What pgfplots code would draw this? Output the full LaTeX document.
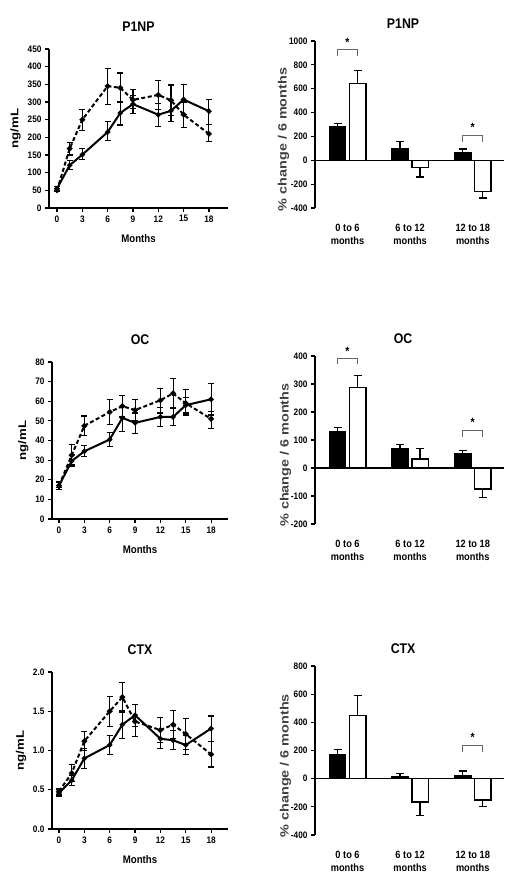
\documentclass[border=0pt]{standalone}
\usepackage{fontspec}
\setmainfont{Liberation Sans}[FakeStretch=0.88]
\newfontfamily\vfont{Liberation Sans}[FakeStretch=1.2]
\usepackage{pgfplots}
\pgfplotsset{compat=1.18}
\usepackage{pgfplotstable}

\pgfplotsset{
  base/.style={
    scale only axis,
    axis y line=left,
    axis x line=bottom,
    axis line style={line width=1.5pt,-},
    tick align=outside,
    major tick length=4pt,
    every tick/.style={line width=1.2pt, black},
    tick label style={font=\fontsize{9.4}{11}\selectfont\bfseries},
    /pgf/number format/assume math mode=true,
    /pgf/number format/1000 sep={},
    title style={font=\fontsize{14}{16}\selectfont\bfseries},
    clip=false,
  },
  lineax/.style={base, width=176pt, height=157pt,
    xmin=-0.83, xmax=20.0, xtick={0,3,...,18},
    xlabel={Months}, ylabel={ng/mL},
    xlabel style={font=\fontsize{11}{13}\selectfont\bfseries, yshift=-5pt},
    ylabel style={font=\vfont\fontsize{11}{13}\selectfont\bfseries},
    title style={at={(0.5,1)}, anchor=center, yshift=16pt},
  },
  barax/.style={base, width=189pt,
    xmin=-0.52, xmax=2.5, xtick={0,1,2},
    xticklabels={{0 to 6\\months},{6 to 12\\months},{12 to 18\\months}},
    xticklabel style={align=center, font=\fontsize{10.5}{12.5}\selectfont\bfseries, yshift=-9pt},
    x axis line style={draw=none}, xtick style={draw=none},
    ylabel={\% change / 6 months},
    ylabel shift=-7pt,
    ylabel style={at={(ticklabel cs:0.41)}, font=\vfont\fontsize{12}{14}\selectfont\bfseries, color=black!75},
    title style={at={(0.466,1)}, anchor=center, yshift=11pt},
  },
  sline/.style={black, line width=2pt, mark=*, mark size=1.5pt,
    error bars/.cd, y dir=both, y explicit,
    error bar style={line width=1.1pt, solid},
    error mark options={rotate=90, line width=1.1pt, mark size=3pt, solid}},
  dline/.style={black, line width=2pt, dash pattern=on 4pt off 2.5pt, mark=*, mark size=1.7pt, mark options={solid},
    error bars/.cd, y dir=both, y explicit,
    error bar style={line width=1.1pt, solid},
    error mark options={rotate=90, line width=1.1pt, mark size=3pt, solid}},
  bblack/.style={ybar, bar shift=0pt, bar width=0.264, fill=black, draw=black, line width=1.3pt,
    error bars/.cd, y dir=both, y explicit,
    error bar style={line width=1.3pt},
    error mark options={rotate=90, line width=1.3pt, mark size=4pt}},
  bwhite/.style={ybar, bar shift=0pt, bar width=0.264, fill=white, draw=black, line width=1.5pt,
    error bars/.cd, y dir=both, y explicit,
    error bar style={line width=1.3pt},
    error mark options={rotate=90, line width=1.3pt, mark size=4pt}},
  brk/.style={black!60, line width=0.8pt, forget plot},
  zline/.style={black, line width=1.5pt, forget plot},
}

\begin{document}
\bfseries
\begin{tikzpicture}
\useasboundingbox (0pt,0pt) rectangle (512pt,-882pt);

% ---------- P1NP line ----------
\begin{axis}[lineax, at={(49pt,-208pt)}, anchor=south west,
  width=179pt, height=159pt, xmin=-0.95, xmax=20.26,
  ymin=0, ymax=450, ytick={0,50,...,450}, title={P1NP}]
\addplot[dline] table[x=x, y=y, y error plus=p, y error minus=m] {
x y p m
0 50 6 4
1.5 168 18 18
3 250 30 30
6 345 50 52
7.5 340 42 40
9 306 30 24
12 320 42 42
13.5 305 43 42
15 264 36 36
18 210 26 23
};
\addplot[sline] table[x=x, y=y, y error plus=p, y error minus=m] {
x y p m
0 55 5 5
1.5 121 14 13
3 151 17 14
6 215 30 25
7.5 269 31 34
9 294 24 26
12 264 31 33
13.5 275 30 30
15 307 43 42
18 274 34 38
};
\end{axis}

% ---------- P1NP bars ----------
\begin{axis}[barax, at={(315pt,-208pt)}, anchor=south west,
  height=167pt, ymin=-400, ymax=1000, ytick={-400,-200,...,1000}, title={P1NP}]
\addplot[bblack] coordinates {(-0.16,285) += (0,25) -= (0,0)
  (0.84,100) += (0,55) -= (0,0) (1.84,65) += (0,30) -= (0,0)};
\addplot[bwhite] coordinates {(0.16,645) += (0,110) -= (0,0)
  (1.16,-60) += (0,0) -= (0,80) (2.16,-260) += (0,0) -= (0,55)};
\addplot[zline] coordinates {(-0.52,0) (2.5,0)};
\addplot[brk] coordinates {(-0.16,872) (-0.16,927) (0.16,927) (0.16,872)};
\addplot[brk] coordinates {(1.84,155) (1.84,211) (2.16,211) (2.16,155)};
\node[font=\fontsize{12}{12}\selectfont\bfseries] at (axis cs:0,990) {*};
\node[font=\fontsize{12}{12}\selectfont\bfseries] at (axis cs:2,275) {*};
\end{axis}

% ---------- OC line ----------
\begin{axis}[lineax, at={(52pt,-519pt)}, anchor=south west,
  ymin=0, ymax=80, ytick={0,10,...,80}, title={OC}]
\addplot[dline] table[x=x, y=y, y error plus=p, y error minus=m] {
x y p m
0 17 1.5 1
1.5 32.5 5.5 4.5
3 47.5 5 5
6 54.5 6.5 6.5
7.5 57.5 5.5 5.5
9 55.5 5.5 5.5
12 60.5 6 6.5
13.5 64 7.5 7.5
15 59 7 6
18 51 4 5
};
\addplot[sline] table[x=x, y=y, y error plus=p, y error minus=m] {
x y p m
0 17 2 2
1.5 29.5 3.5 2.5
3 34.5 3 2.5
6 40.5 3.5 3.5
7.5 51.5 6 7
9 49 5 5.5
12 52 5 5
13.5 52 5 4.5
15 58 4 4
18 61 8 8
};
\end{axis}

% ---------- OC bars ----------
\begin{axis}[barax, at={(315pt,-524pt)}, anchor=south west,
  height=168pt, ymin=-200, ymax=400, ytick={-200,-100,...,400}, title={OC}]
\addplot[bblack] coordinates {(-0.16,130) += (0,15) -= (0,0)
  (0.84,70) += (0,15) -= (0,0) (1.84,50) += (0,13) -= (0,0)};
\addplot[bwhite] coordinates {(0.16,288) += (0,42) -= (0,0)
  (1.16,33) += (0,37) -= (0,0) (2.16,-75) += (0,0) -= (0,30)};
\addplot[zline] coordinates {(-0.52,0) (2.5,0)};
\addplot[brk] coordinates {(-0.16,370) (-0.16,392) (0.16,392) (0.16,370)};
\addplot[brk] coordinates {(1.84,112) (1.84,136) (2.16,136) (2.16,112)};
\node[font=\fontsize{12}{12}\selectfont\bfseries] at (axis cs:0,418) {*};
\node[font=\fontsize{12}{12}\selectfont\bfseries] at (axis cs:2,162) {*};
\end{axis}

% ---------- CTX line ----------
\begin{axis}[lineax, at={(52pt,-829pt)}, anchor=south west,
  ymin=0, ymax=2, ytick={0,0.5,...,2},
  yticklabel style={/pgf/number format/.cd, fixed, fixed zerofill, precision=1},
  title={CTX}]
\addplot[dline] table[x=x, y=y, y error plus=p, y error minus=m] {
x y p m
0 0.48 0.04 0.04
1.5 0.71 0.11 0.11
3 1.12 0.12 0.12
6 1.50 0.19 0.19
7.5 1.68 0.19 0.19
9 1.37 0.22 0.19
12 1.26 0.16 0.16
13.5 1.33 0.18 0.18
15 1.21 0.2 0.2
18 0.95 0.17 0.16
};
\addplot[sline] table[x=x, y=y, y error plus=p, y error minus=m] {
x y p m
0 0.46 0.04 0.04
1.5 0.62 0.06 0.06
3 0.90 0.13 0.13
6 1.07 0.12 0.12
7.5 1.33 0.18 0.18
9 1.45 0.14 0.14
12 1.15 0.12 0.12
13.5 1.13 0.12 0.12
15 1.07 0.12 0.12
18 1.28 0.16 0.16
};
\end{axis}

% ---------- CTX bars ----------
\begin{axis}[barax, at={(315pt,-835pt)}, anchor=south west,
  height=169pt, ymin=-400, ymax=800, ytick={-400,-200,...,800}, title={CTX}]
\addplot[bblack] coordinates {(-0.16,170) += (0,35) -= (0,0)
  (0.84,15) += (0,20) -= (0,0) (1.84,25) += (0,30) -= (0,0)};
\addplot[bwhite] coordinates {(0.16,450) += (0,140) -= (0,0)
  (1.16,-165) += (0,0) -= (0,95) (2.16,-150) += (0,0) -= (0,50)};
\addplot[zline] coordinates {(-0.52,0) (2.5,0)};
\addplot[brk] coordinates {(1.84,190) (1.84,238) (2.16,238) (2.16,190)};
\node[font=\fontsize{12}{12}\selectfont\bfseries] at (axis cs:2,295) {*};
\end{axis}

\end{tikzpicture}
\end{document}
